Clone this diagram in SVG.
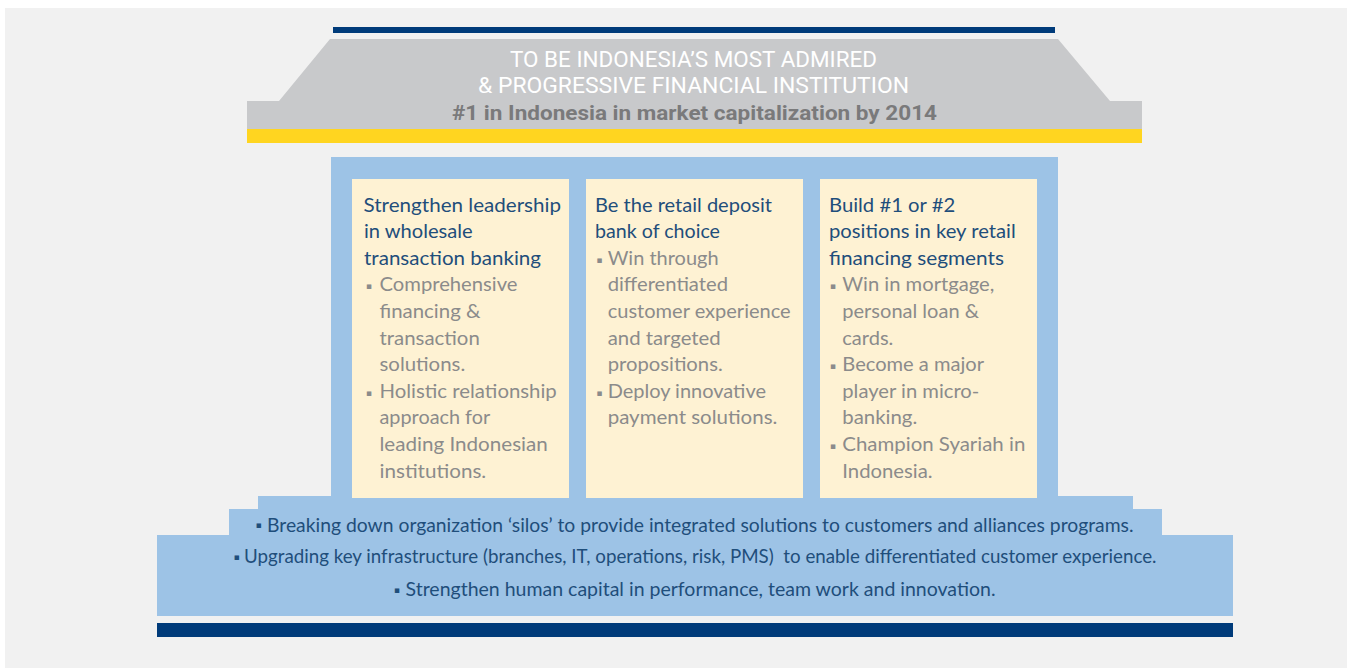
<svg xmlns="http://www.w3.org/2000/svg" width="1352" height="668" viewBox="0 0 1352 668">
  <style>
    .roof-cap { font-family: Roboto, "Liberation Sans", sans-serif; font-weight: 400; font-size: 22.5px; fill: #ffffff; }
    .roof-sub { font-family: Roboto, "Liberation Sans", sans-serif; font-weight: 700; font-size: 20px; fill: #7a7a7b; }
    .title { font-family: Lato, "Liberation Sans", sans-serif; font-size: 20px; fill: #1f4e7b; }
    .body { font-family: Lato, "Liberation Sans", sans-serif; font-size: 20px; fill: #8b8b8b; }
    .base { font-family: Lato, "Liberation Sans", sans-serif; font-size: 20px; fill: #1f4e7b; white-space: pre; }
    .bul-g { font-family: "DejaVu Sans", sans-serif; font-size: 9px; fill: #8b8b8b; text-anchor: middle; }
    .bul-n { font-family: "DejaVu Sans", sans-serif; font-size: 9px; fill: #1f4e7b; text-anchor: middle; }
    .pillar { fill: #fef2d3; }
  </style>

  <!-- page -->
  <rect x="0" y="0" width="1352" height="668" fill="#ffffff"/>
  <rect x="5" y="8" width="1342" height="660" fill="#f1f1f1"/>

  <!-- roof: vision statement -->
  <g id="roof">
    <rect x="333" y="27" width="722" height="6" fill="#003b7a"/>
    <polygon points="330,39 1058,39 1110,101 1142,101 1142,129 247,129 247,101 279,101" fill="#c8c9cb"/>
    <rect x="247" y="129" width="895" height="14" fill="#ffd520"/>
    <text class="roof-cap" x="510" y="66.7" textLength="367" lengthAdjust="spacingAndGlyphs">TO BE INDONESIA’S MOST ADMIRED</text>
    <text class="roof-cap" x="478" y="93.3" textLength="431" lengthAdjust="spacingAndGlyphs">&amp; PROGRESSIVE FINANCIAL INSTITUTION</text>
    <text class="roof-sub" x="452" y="119.5" textLength="485" lengthAdjust="spacingAndGlyphs">#1 in Indonesia in market capitalization by 2014</text>
  </g>

  <!-- blue frame: pillar backdrop and stepped foundation -->
  <g id="frame">
    <path d="M331,157 H1058 V496 H1133 V509 H1162 V535 H1233 V616 H157 V535 H229 V509 H258 V496 H331 Z" fill="#9dc3e6"/>
    <rect x="157" y="623" width="1076" height="14" fill="#003b7a"/>
  </g>

  <!-- pillar 1 -->
  <g id="pillar-wholesale">
    <rect class="pillar" x="352" y="179" width="217" height="319"/>
    <text class="title" x="363.5" y="211.5" textLength="197.5" lengthAdjust="spacingAndGlyphs">Strengthen leadership</text>
    <text class="title" x="364" y="238.1" textLength="108.7" lengthAdjust="spacingAndGlyphs">in wholesale</text>
    <text class="title" x="364" y="264.7" textLength="177" lengthAdjust="spacingAndGlyphs">transaction banking</text>
    <text class="bul-g" x="369" y="289">▪</text>
    <text class="body" x="379.5" y="291.3" textLength="138" lengthAdjust="spacingAndGlyphs">Comprehensive</text>
    <text class="body" x="379.5" y="317.9" textLength="101" lengthAdjust="spacingAndGlyphs">financing &amp;</text>
    <text class="body" x="379.5" y="344.5" textLength="100.3" lengthAdjust="spacingAndGlyphs">transaction</text>
    <text class="body" x="379.5" y="371.1" textLength="85.7" lengthAdjust="spacingAndGlyphs">solutions.</text>
    <text class="bul-g" x="369" y="395.5">▪</text>
    <text class="body" x="379.5" y="397.7" textLength="177.3" lengthAdjust="spacingAndGlyphs">Holistic relationship</text>
    <text class="body" x="379.5" y="424.3" textLength="110.7" lengthAdjust="spacingAndGlyphs">approach for</text>
    <text class="body" x="379.5" y="450.9" textLength="168.3" lengthAdjust="spacingAndGlyphs">leading Indonesian</text>
    <text class="body" x="379.5" y="477.5" textLength="106.7" lengthAdjust="spacingAndGlyphs">institutions.</text>
  </g>

  <!-- pillar 2 -->
  <g id="pillar-deposit">
    <rect class="pillar" x="586" y="179" width="217" height="319"/>
    <text class="title" x="595" y="211.5" textLength="177" lengthAdjust="spacingAndGlyphs">Be the retail deposit</text>
    <text class="title" x="595" y="238.1" textLength="125" lengthAdjust="spacingAndGlyphs">bank of choice</text>
    <text class="bul-g" x="599.5" y="262.5">▪</text>
    <text class="body" x="607.7" y="264.7" textLength="111" lengthAdjust="spacingAndGlyphs">Win through</text>
    <text class="body" x="607.7" y="291.3" textLength="120.3" lengthAdjust="spacingAndGlyphs">differentiated</text>
    <text class="body" x="607.7" y="317.9" textLength="183" lengthAdjust="spacingAndGlyphs">customer experience</text>
    <text class="body" x="607.7" y="344.5" textLength="113" lengthAdjust="spacingAndGlyphs">and targeted</text>
    <text class="body" x="607.7" y="371.1" textLength="115" lengthAdjust="spacingAndGlyphs">propositions.</text>
    <text class="bul-g" x="599.5" y="395.5">▪</text>
    <text class="body" x="607.7" y="397.7" textLength="158.3" lengthAdjust="spacingAndGlyphs">Deploy innovative</text>
    <text class="body" x="607.7" y="424.3" textLength="169.7" lengthAdjust="spacingAndGlyphs">payment solutions.</text>
  </g>

  <!-- pillar 3 -->
  <g id="pillar-financing">
    <rect class="pillar" x="820" y="179" width="217" height="319"/>
    <text class="title" x="829" y="211.5" textLength="126.3" lengthAdjust="spacingAndGlyphs">Build #1 or #2</text>
    <text class="title" x="829" y="238.1" textLength="186.7" lengthAdjust="spacingAndGlyphs">positions in key retail</text>
    <text class="title" x="829" y="264.7" textLength="175" lengthAdjust="spacingAndGlyphs">financing segments</text>
    <text class="bul-g" x="833" y="289">▪</text>
    <text class="body" x="842.3" y="291.3" textLength="152" lengthAdjust="spacingAndGlyphs">Win in mortgage,</text>
    <text class="body" x="842.3" y="317.9" textLength="136.7" lengthAdjust="spacingAndGlyphs">personal loan &amp;</text>
    <text class="body" x="842.3" y="344.5" textLength="51" lengthAdjust="spacingAndGlyphs">cards.</text>
    <text class="bul-g" x="833" y="368.9">▪</text>
    <text class="body" x="842.3" y="371.1" textLength="141.7" lengthAdjust="spacingAndGlyphs">Become a major</text>
    <text class="body" x="842.3" y="397.7" textLength="137" lengthAdjust="spacingAndGlyphs">player in micro-</text>
    <text class="body" x="842.3" y="424.3" textLength="75" lengthAdjust="spacingAndGlyphs">banking.</text>
    <text class="bul-g" x="833" y="448.7">▪</text>
    <text class="body" x="842.3" y="450.9" textLength="183" lengthAdjust="spacingAndGlyphs">Champion Syariah in</text>
    <text class="body" x="842.3" y="477.5" textLength="90.3" lengthAdjust="spacingAndGlyphs">Indonesia.</text>
  </g>

  <!-- foundation: enablers -->
  <g id="foundation">
    <text class="bul-n" x="258.7" y="528">▪</text>
    <text class="base" x="267" y="531.5" textLength="866.5" lengthAdjust="spacingAndGlyphs">Breaking down organization ‘silos’ to provide integrated solutions to customers and alliances programs.</text>
    <text class="bul-n" x="236.8" y="559.8">▪</text>
    <text class="base" x="244" y="563.3" textLength="912.5" lengthAdjust="spacingAndGlyphs">Upgrading key infrastructure (branches, IT, operations, risk, PMS)  to enable differentiated customer experience.</text>
    <text class="bul-n" x="397" y="592.5">▪</text>
    <text class="base" x="405.5" y="596" textLength="590" lengthAdjust="spacingAndGlyphs">Strengthen human capital in performance, team work and innovation.</text>
  </g>
</svg>
